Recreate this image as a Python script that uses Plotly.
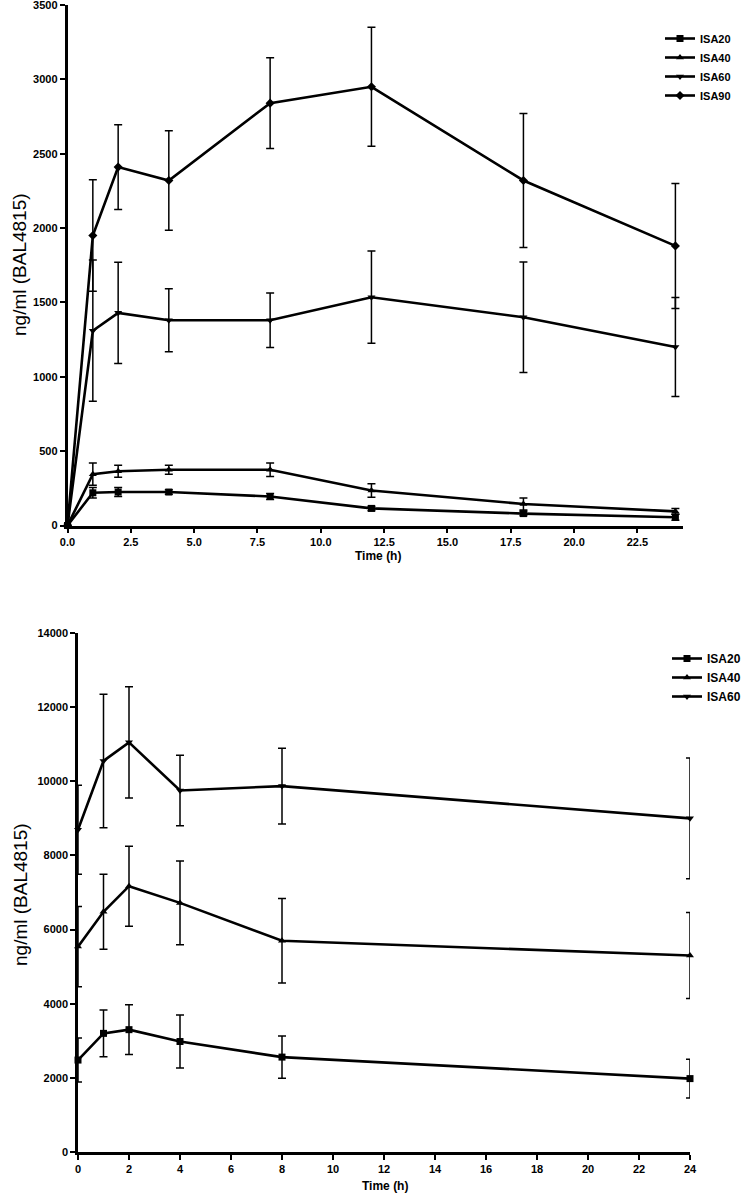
import plotly.graph_objects as go

# ---------- Top chart data ----------
t_top = [0, 1, 2, 4, 8, 12, 18, 24]
top_isa20 = [0, 220, 225, 225, 195, 115, 80, 55]
top_isa20_err = [0, 35, 30, 15, 20, 15, 15, 20]
top_isa40 = [0, 345, 365, 375, 375, 235, 145, 95]
top_isa40_err = [0, 75, 40, 30, 45, 45, 40, 20]
top_isa60 = [0, 1310, 1430, 1380, 1380, 1535, 1400, 1200]
top_isa60_err = [0, 475, 340, 212, 183, 310, 372, 333]
top_isa90 = [0, 1950, 2410, 2320, 2840, 2950, 2320, 1880]
top_isa90_err = [0, 375, 285, 335, 305, 400, 450, 420]

# ---------- Bottom chart data ----------
t_bot = [0, 1, 2, 4, 8, 24]
bot_isa20 = [2480, 3200, 3300, 2980, 2560, 1980]
bot_isa20_err = [595, 630, 670, 715, 570, 525]
bot_isa40 = [5540, 6480, 7170, 6720, 5700, 5300]
bot_isa40_err = [1080, 1010, 1080, 1130, 1140, 1160]
bot_isa60 = [8690, 10550, 11050, 9750, 9870, 9000]
bot_isa60_err = [1200, 1800, 1500, 950, 1020, 1630]

top_ticks = [0, 2.5, 5.0, 7.5, 10.0, 12.5, 15.0, 17.5, 20.0, 22.5]
top_ticklabels = ["0.0", "2.5", "5.0", "7.5", "10.0", "12.5", "15.0", "17.5", "20.0", "22.5"]

symbols = {"ISA20": "square", "ISA40": "triangle-up", "ISA60": "triangle-down", "ISA90": "diamond"}

fig = go.Figure()

def add(name, x, y, err, xa, ya, legend):
    fig.add_trace(go.Scatter(
        x=x, y=y, name=name, mode="lines+markers",
        xaxis=xa, yaxis=ya, legend=legend, cliponaxis=False,
        line=dict(color="black", width=2.6),
        marker=dict(symbol=symbols[name], size=7, color="black"),
        error_y=dict(type="data", array=err, visible=True, color="black",
                     thickness=1.5, width=4),
    ))

add("ISA20", t_top, top_isa20, top_isa20_err, "x", "y", "legend")
add("ISA40", t_top, top_isa40, top_isa40_err, "x", "y", "legend")
add("ISA60", t_top, top_isa60, top_isa60_err, "x", "y", "legend")
add("ISA90", t_top, top_isa90, top_isa90_err, "x", "y", "legend")

add("ISA20", t_bot, bot_isa20, bot_isa20_err, "x2", "y2", "legend2")
add("ISA40", t_bot, bot_isa40, bot_isa40_err, "x2", "y2", "legend2")
add("ISA60", t_bot, bot_isa60, bot_isa60_err, "x2", "y2", "legend2")

FONT = "Liberation Sans Narrow, Liberation Sans, Arial"
tickfont = dict(family=FONT, size=11, color="black", weight="bold")
axis_common = dict(showgrid=False, zeroline=False, showline=True, linecolor="black",
                   linewidth=2.5, ticks="outside", ticklen=5, tickwidth=2,
                   tickcolor="black", tickfont=tickfont, automargin=False,
                   ticklabeloverflow="allow")

W, H = 750.0, 1195.0

def PX(px):
    return px / W

def PY(py):
    return 1 - py / H

ann_common = dict(xref="paper", yref="paper", showarrow=False,
                  xanchor="center", yanchor="middle")

fig.update_layout(
    width=750, height=1195,
    margin=dict(l=0, r=0, t=0, b=0, autoexpand=False),
    paper_bgcolor="white", plot_bgcolor="white",
    xaxis=dict(domain=[PX(67.5), PX(683)], range=[0, 24.3], tickvals=top_ticks,
               ticktext=top_ticklabels, anchor="y", **axis_common),
    yaxis=dict(domain=[PY(525.5), PY(5)], range=[0, 3500], dtick=500, anchor="x",
               tickformat="d", **axis_common),
    xaxis2=dict(domain=[PX(78), PX(690)], range=[0, 24], dtick=2, anchor="y2",
                **axis_common),
    yaxis2=dict(domain=[PY(1152), PY(633)], range=[0, 14000], dtick=2000, anchor="x2",
                tickformat="d", **axis_common),
    legend=dict(x=PX(660), y=PY(24), xanchor="left", yanchor="top",
                font=dict(family=FONT, size=11, color="black", weight="bold"),
                bgcolor="rgba(0,0,0,0)", tracegroupgap=0, itemwidth=30),
    legend2=dict(x=PX(667), y=PY(644), xanchor="left", yanchor="top",
                 font=dict(family=FONT, size=12, color="black", weight="bold"),
                 bgcolor="rgba(0,0,0,0)", tracegroupgap=0, itemwidth=30),
    annotations=[
        dict(text="ng/ml (BAL4815)", x=PX(20), y=PY(265), textangle=-90,
             font=dict(family="Liberation Sans", size=19, color="black"), **ann_common),
        dict(text="Time (h)", x=PX(378), y=PY(556),
             font=dict(family=FONT, size=12, color="black", weight="bold"), **ann_common),
        dict(text="ng/ml (BAL4815)", x=PX(20), y=PY(895), textangle=-90,
             font=dict(family="Liberation Sans", size=19, color="black"), **ann_common),
        dict(text="Time (h)", x=PX(385), y=PY(1186),
             font=dict(family=FONT, size=12, color="black", weight="bold"), **ann_common),
    ],
)

fig.write_html("out.html", config={"displayModeBar": False},
               post_script="document.body.style.margin='0px';")
